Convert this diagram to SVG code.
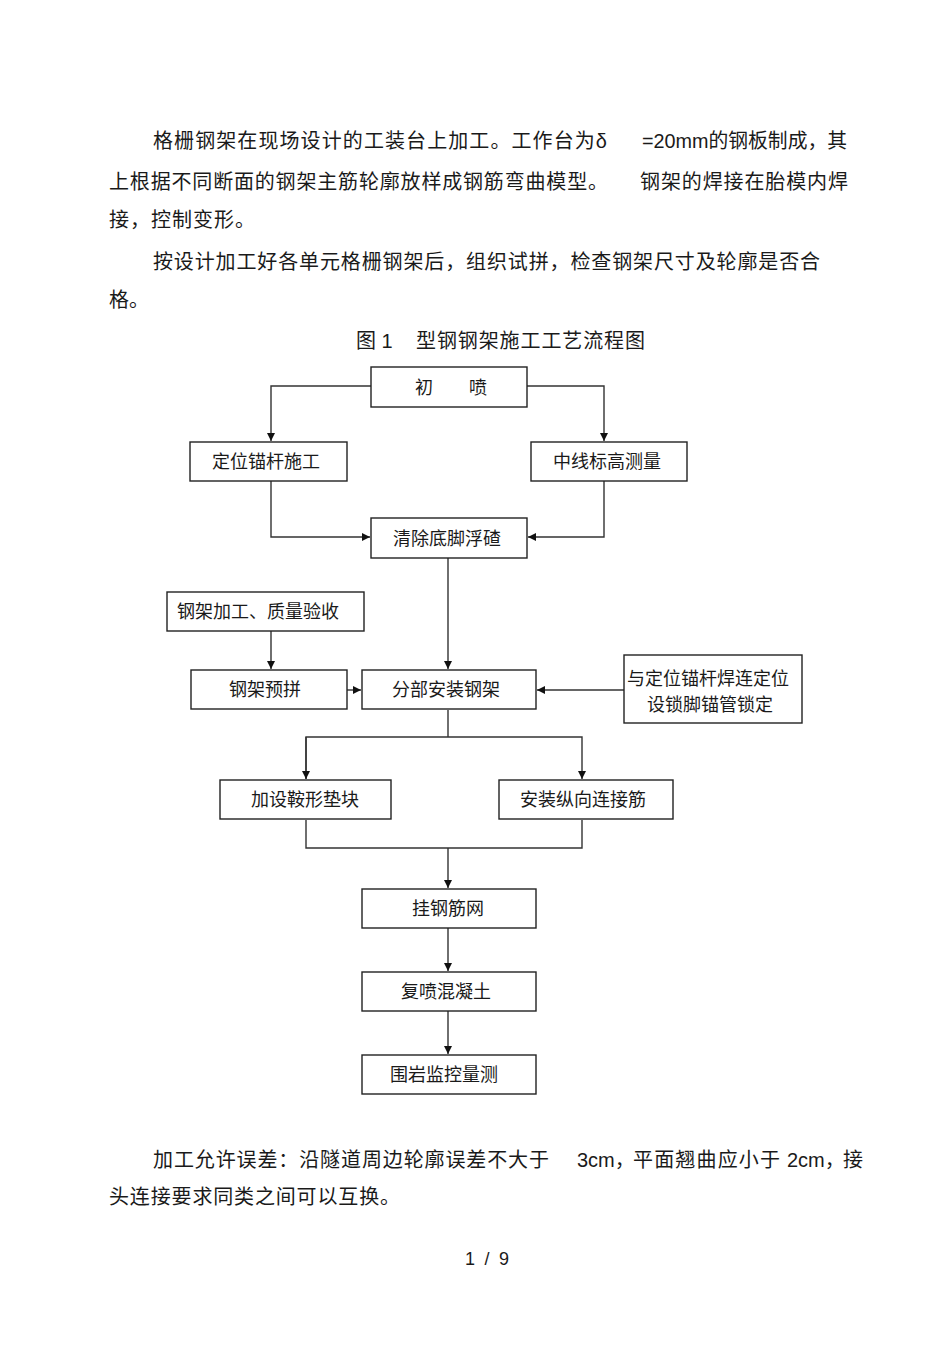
<svg xmlns="http://www.w3.org/2000/svg" width="950" height="1345" viewBox="0 0 950 1345">
<style>
  .body{font-family:"Liberation Sans","Noto Sans CJK SC",sans-serif;font-size:20px;fill:#1a1a1a}
  .lbl{font-family:"Liberation Sans","Noto Sans CJK SC",sans-serif;font-size:18px;fill:#1a1a1a;text-anchor:middle}
  .box{fill:#fff;stroke:#222;stroke-width:1.4}
  .ln{fill:none;stroke:#333;stroke-width:1.4}
</style>
<defs>
  <marker id="ah" viewBox="0 0 10 10" refX="10" refY="5" markerWidth="10" markerHeight="8" markerUnits="userSpaceOnUse" orient="auto">
    <path d="M0,0 L10,5 L0,10 z" fill="#111"/>
  </marker>
</defs>
<rect width="950" height="1345" fill="#fff"/>

<g id="text">
  <text class="body" x="153" y="148" textLength="454" lengthAdjust="spacing">格栅钢架在现场设计的工装台上加工。工作台为δ</text>
  <text class="body" x="642" y="148" textLength="205" lengthAdjust="spacingAndGlyphs">=20mm的钢板制成，其</text>
  <text class="body" x="109" y="189" textLength="499" lengthAdjust="spacing">上根据不同断面的钢架主筋轮廓放样成钢筋弯曲模型。</text>
  <text class="body" x="640" y="189" textLength="208" lengthAdjust="spacing">钢架的焊接在胎模内焊</text>
  <text class="body" x="109" y="227" textLength="146" lengthAdjust="spacing">接，控制变形。</text>
  <text class="body" x="153" y="269" textLength="667" lengthAdjust="spacing">按设计加工好各单元格栅钢架后，组织试拼，检查钢架尺寸及轮廓是否合</text>
  <text class="body" x="109" y="307">格。</text>
  <text class="body" x="356" y="348">图 1</text>
  <text class="body" x="416" y="348" textLength="229" lengthAdjust="spacing">型钢钢架施工工艺流程图</text>
  <text class="body" x="153" y="1167" textLength="396" lengthAdjust="spacing">加工允许误差：沿隧道周边轮廓误差不大于</text>
  <text class="body" x="577" y="1167">3cm，</text>
  <text class="body" x="633" y="1167" textLength="147" lengthAdjust="spacing">平面翘曲应小于</text>
  <text class="body" x="787" y="1167">2cm，</text>
  <text class="body" x="843" y="1167">接</text>
  <text class="body" x="109" y="1204" textLength="291" lengthAdjust="spacing">头连接要求同类之间可以互换。</text>
  <text class="body" x="465" y="1265" textLength="44" lengthAdjust="spacing" style="font-size:18px">1 / 9</text>
</g>

<g id="connectors">
  <path class="ln" d="M371,386 H271 V441" marker-end="url(#ah)"/>
  <path class="ln" d="M527,386 H604 V441" marker-end="url(#ah)"/>
  <path class="ln" d="M271,481 V537 H370" marker-end="url(#ah)"/>
  <path class="ln" d="M604,481 V537 H528" marker-end="url(#ah)"/>
  <path class="ln" d="M448,558 V669" marker-end="url(#ah)"/>
  <path class="ln" d="M271,631 V669" marker-end="url(#ah)"/>
  <path class="ln" d="M347,690 H361" marker-end="url(#ah)"/>
  <path class="ln" d="M624,690 H537" marker-end="url(#ah)"/>
  <path class="ln" d="M448,710 V737"/>
  <path class="ln" d="M306,779 V737 H582 V779" marker-end="url(#ah)"/>
  <path class="ln" d="M306,737 V779" marker-end="url(#ah)"/>
  <path class="ln" d="M306,820 V848 H582 V820"/>
  <path class="ln" d="M448,848 V888" marker-end="url(#ah)"/>
  <path class="ln" d="M448,928 V971" marker-end="url(#ah)"/>
  <path class="ln" d="M448,1011 V1054" marker-end="url(#ah)"/>
</g>

<g id="n_chupen"><rect class="box" x="371" y="367" width="156" height="40"/><text class="lbl" x="451" y="394">初　　喷</text></g>
<g id="n_dingwei"><rect class="box" x="190" y="442" width="157" height="39"/><text class="lbl" x="266" y="468">定位锚杆施工</text></g>
<g id="n_zhongxian"><rect class="box" x="531" y="442" width="156" height="39"/><text class="lbl" x="607" y="468">中线标高测量</text></g>
<g id="n_qingchu"><rect class="box" x="371" y="518" width="156" height="40"/><text class="lbl" x="447" y="545">清除底脚浮碴</text></g>
<g id="n_jiagong"><rect class="box" x="167" y="592" width="197" height="39"/><text class="lbl" x="258" y="618">钢架加工、质量验收</text></g>
<g id="n_yupin"><rect class="box" x="191" y="670" width="156" height="39"/><text class="lbl" x="265" y="696">钢架预拼</text></g>
<g id="n_fenbu"><rect class="box" x="362" y="670" width="174" height="39"/><text class="lbl" x="446" y="696">分部安装钢架</text></g>
<g id="n_suojiao"><rect class="box" x="624" y="655" width="178" height="68"/><text class="lbl" x="708" y="685">与定位锚杆焊连定位</text><text class="lbl" x="710" y="711">设锁脚锚管锁定</text></g>
<g id="n_anxing"><rect class="box" x="220" y="780" width="171" height="39"/><text class="lbl" x="305" y="806">加设鞍形垫块</text></g>
<g id="n_zongxiang"><rect class="box" x="499" y="780" width="174" height="39"/><text class="lbl" x="583" y="806">安装纵向连接筋</text></g>
<g id="n_guawang"><rect class="box" x="362" y="889" width="174" height="39"/><text class="lbl" x="448" y="915">挂钢筋网</text></g>
<g id="n_fupen"><rect class="box" x="362" y="972" width="174" height="39"/><text class="lbl" x="446" y="998">复喷混凝土</text></g>
<g id="n_weiyan"><rect class="box" x="362" y="1055" width="174" height="39"/><text class="lbl" x="444" y="1081">围岩监控量测</text></g>
</svg>
